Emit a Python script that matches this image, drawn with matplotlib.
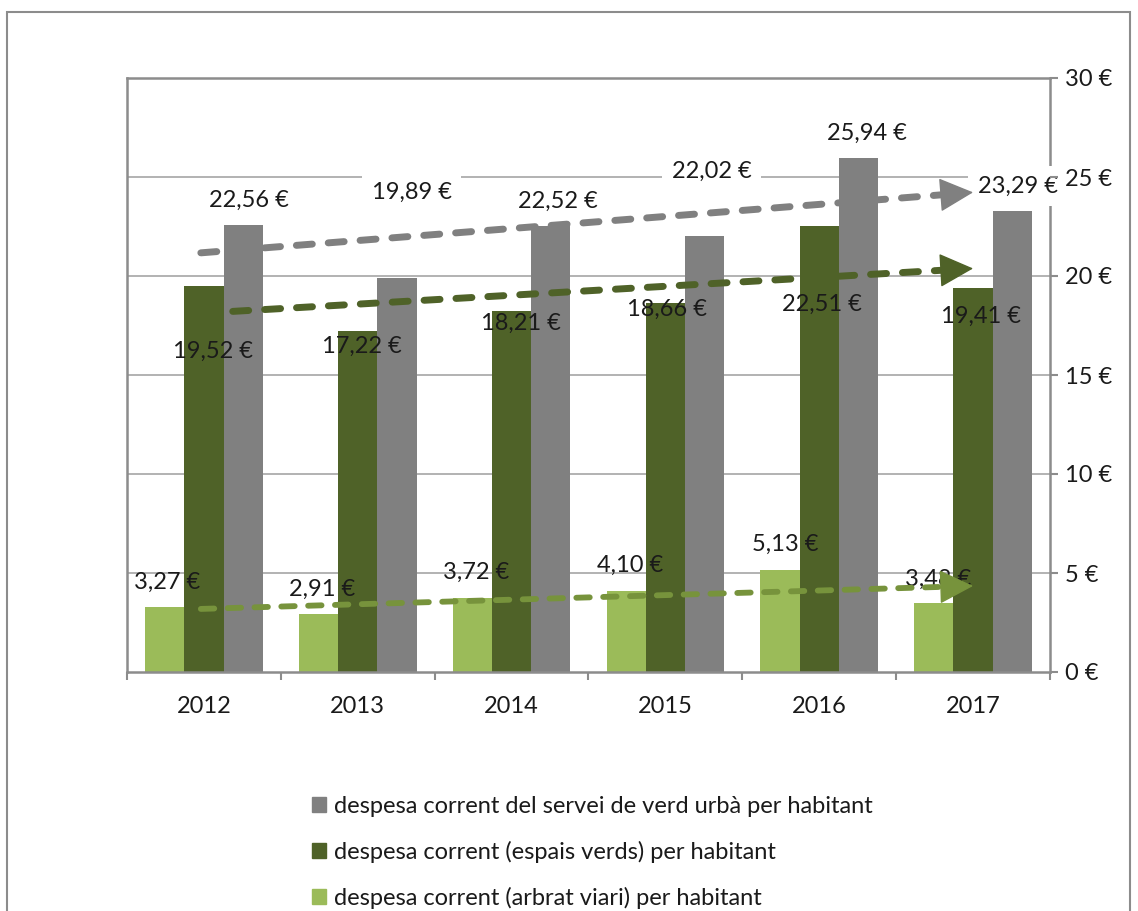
"""
Despesa corrent per habitant (verd urbà), 2012-2017
Grouped bars with dashed linear trend arrows
"""

import numpy as np
import matplotlib
matplotlib.use('Agg')
import matplotlib.pyplot as plt
from matplotlib.patches import Rectangle, Patch

plt.rcParams['font.family'] = ['Lato', 'DejaVu Sans']

# Data
years = ['2012', '2013', '2014', '2015', '2016', '2017']
servei_verd = [22.56, 19.89, 22.52, 22.02, 25.94, 23.29]
espais_verds = [19.52, 17.22, 18.21, 18.66, 22.51, 19.41]
arbrat_viari = [3.27, 2.91, 3.72, 4.10, 5.13, 3.48]

series_labels = [
    'despesa corrent del servei de verd urbà per habitant',
    'despesa corrent (espais verds) per habitant',
    'despesa corrent (arbrat viari) per habitant',
]
y_ticks = [0, 5, 10, 15, 20, 25, 30]

# Colours
c_gray = '#808080'
c_dark = '#4f6228'
c_light = '#9bbb59'
c_light_trend = '#77933c'
c_frame = '#8c8c8c'
c_text = '#1a1a1a'

# Label positions (data coords), placed as in the original chart
gray_lbl_pos = [(0.29, 23.84), (1.35, 24.24), (2.30, 23.79),
                (3.30, 25.30), (4.31, 27.22), (5.29, 24.55)]
dark_lbl_pos = [(0.06, 16.21), (1.03, 16.46), (2.06, 17.63),
                (3.01, 18.33), (4.02, 18.59), (5.05, 17.98)]
light_lbl_pos = [(-0.24, 4.55), (0.77, 4.19), (1.77, 5.05),
                 (2.77, 5.40), (3.78, 6.46), (4.77, 4.70)]

FS = 17


def fmt_eur(v):
    return f"{v:.2f}".replace('.', ',') + ' €'


fig = plt.figure(figsize=(11.38, 9.11), dpi=100)
ax = fig.add_axes([127 / 1138, 1 - 672 / 911, 923 / 1138, 594 / 911])

# outer chart border (bottom runs off the image)
fig.patches.append(Rectangle((7 / 1138, -0.05), 1123 / 1138, 1.05 - 12 / 911,
                             transform=fig.transFigure, fill=False,
                             edgecolor=c_frame, lw=1.5))

x = np.arange(len(years))
w = 0.255
ax.bar(x - w, arbrat_viari, w, color=c_light, zorder=2)
ax.bar(x, espais_verds, w, color=c_dark, zorder=2)
ax.bar(x + w, servei_verd, w, color=c_gray, zorder=2)

# gridlines drawn by hand so the axis (tick labels) can sit on top
for t in y_ticks[1:-1]:
    ax.axhline(t, color='#a6a6a6', lw=1.2, zorder=1)

# data labels
for (lx, ly), v in zip(gray_lbl_pos, servei_verd):
    ax.text(lx, ly, fmt_eur(v), ha='center', va='center', fontsize=FS,
            color=c_text, zorder=3, clip_on=False,
            bbox=dict(boxstyle='square,pad=0.4', fc='white', ec='none'))
for (lx, ly), v in zip(dark_lbl_pos, espais_verds):
    ax.text(lx, ly, fmt_eur(v), ha='center', va='center', fontsize=FS,
            color=c_text, zorder=3)
for (lx, ly), v in zip(light_lbl_pos, arbrat_viari):
    ax.text(lx, ly, fmt_eur(v), ha='center', va='center', fontsize=FS,
            color=c_text, zorder=3)


# linear trend lines with arrow heads
def trend(vals, color, lw):
    k, b = np.polyfit(x, vals, 1)
    x_end = x[-1] - 0.13
    xs = np.array([x[0] - 0.02, x_end])
    ax.plot(xs, k * xs + b, color=color, lw=lw, ls=(0, (2.3, 2.3)),
            dash_capstyle='round', zorder=4)
    ax.annotate('', xy=(x[-1], k * x[-1] + b), xytext=(x_end, k * x_end + b),
                arrowprops=dict(arrowstyle='-|>,head_length=1.1,head_width=0.55',
                                color=color, lw=1, shrinkA=0, shrinkB=0,
                                mutation_scale=20),
                zorder=4)


trend(servei_verd, c_gray, 5)
trend(espais_verds, c_dark, 5)
trend(arbrat_viari, c_light_trend, 4.2)

# axes styling
ax.set_xlim(-0.5, 5.5)
ax.set_ylim(0, 30)
ax.yaxis.tick_right()
ax.set_yticks(y_ticks)
ax.set_yticklabels([f'{t} €' for t in y_ticks])
ax.set_xticks(np.arange(-0.5, 6, 1))
ax.set_xticklabels([])
ax.set_xticks(x, minor=True)
ax.set_xticklabels(years, minor=True)
ax.tick_params(axis='x', which='major', direction='out', length=6,
               color=c_frame, width=1.5)
ax.tick_params(axis='x', which='minor', length=0, pad=17, labelsize=FS,
               labelcolor=c_text)
ax.tick_params(axis='y', direction='out', length=6, color=c_frame, width=1.5,
               labelsize=FS, labelcolor=c_text, pad=5)
ax.yaxis.set_zorder(3.5)
ax.xaxis.set_zorder(3.5)
for s in ax.spines.values():
    s.set_color(c_frame)
    s.set_linewidth(1.8)
    s.set_zorder(2.5)

handles = [Patch(color=c_gray), Patch(color=c_dark), Patch(color=c_light)]
fig.legend(handles, series_labels, loc='upper left',
           bbox_to_anchor=(291 / 1138, 1 - 775 / 911), frameon=False,
           fontsize=FS, handlelength=0.6, handleheight=0.6,
           handletextpad=0.3, labelspacing=1.0, labelcolor=c_text)

fig.savefig('out.png', dpi=100, facecolor='white')
